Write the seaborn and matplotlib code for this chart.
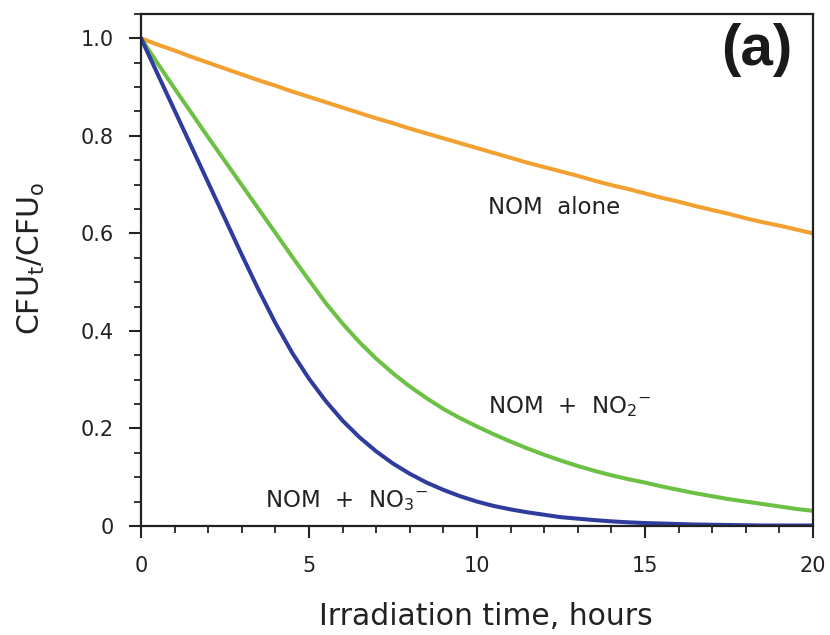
import numpy as np
import pandas as pd
import matplotlib
matplotlib.use("Agg")
import matplotlib.pyplot as plt
import seaborn as sns
from matplotlib.ticker import MultipleLocator

# Irradiation time (hours), sampled every half hour
hours = [0.0, 0.5, 1.0, 1.5, 2.0, 2.5, 3.0, 3.5, 4.0, 4.5,
         5.0, 5.5, 6.0, 6.5, 7.0, 7.5, 8.0, 8.5, 9.0, 9.5,
         10.0, 10.5, 11.0, 11.5, 12.0, 12.5, 13.0, 13.5, 14.0, 14.5,
         15.0, 15.5, 16.0, 16.5, 17.0, 17.5, 18.0, 18.5, 19.0, 19.5, 20.0]

# Surviving fraction CFU_t/CFU_0 for each treatment
nom_alone = [1.000, 0.987, 0.975, 0.962, 0.950, 0.938, 0.926, 0.914, 0.903, 0.891,
             0.880, 0.869, 0.858, 0.847, 0.836, 0.826, 0.815, 0.805, 0.795, 0.785,
             0.775, 0.765, 0.755, 0.745, 0.736, 0.727, 0.718, 0.708, 0.699, 0.691,
             0.682, 0.673, 0.665, 0.656, 0.648, 0.640, 0.631, 0.623, 0.616, 0.608, 0.600]
nom_no2 = [1.000, 0.948, 0.897, 0.847, 0.797, 0.748, 0.699, 0.650, 0.601, 0.552,
           0.504, 0.457, 0.415, 0.377, 0.343, 0.313, 0.286, 0.262, 0.240, 0.221,
           0.204, 0.188, 0.173, 0.159, 0.146, 0.134, 0.123, 0.113, 0.104, 0.096,
           0.089, 0.081, 0.074, 0.067, 0.061, 0.055, 0.050, 0.045, 0.040, 0.035, 0.031]
nom_no3 = [1.000, 0.926, 0.852, 0.778, 0.704, 0.630, 0.556, 0.484, 0.416, 0.355,
           0.302, 0.256, 0.216, 0.182, 0.153, 0.128, 0.107, 0.089, 0.074, 0.061,
           0.050, 0.041, 0.034, 0.028, 0.023, 0.018, 0.015, 0.012, 0.0095, 0.0075,
           0.006, 0.005, 0.004, 0.003, 0.0025, 0.002, 0.0015, 0.001, 0.001, 0.001, 0.001]

series_names = ["NOM alone", "NOM + NO2", "NOM + NO3"]
series_colors = ["#F2A030", "#6CC044", "#2F3C9E"]

n = len(hours)
df = pd.DataFrame({
    "hours": hours * 3,
    "ratio": nom_alone + nom_no2 + nom_no3,
    "series": [series_names[0]] * n + [series_names[1]] * n + [series_names[2]] * n,
})

sns.set_theme(style="ticks")
plt.rcParams["font.family"] = ["DejaVu Sans"]
plt.rcParams["mathtext.default"] = "regular"

fig = plt.figure(figsize=(8.3, 6.35), dpi=100)
ax = fig.add_axes([0.1699, 0.1717, 0.8096, 0.8063])

sns.lineplot(data=df, x="hours", y="ratio", hue="series",
             palette=dict(zip(series_names, series_colors)),
             linewidth=2.9, legend=False, ax=ax)

ax.set_xlim(0, 20)
ax.set_ylim(0, 1.05)
ax.xaxis.set_minor_locator(MultipleLocator(1))
ax.yaxis.set_minor_locator(MultipleLocator(0.05))
ax.set_xticks([0, 5, 10, 15, 20])
ax.set_xticklabels(["0", "5", "10", "15", "20"])
ax.set_yticks([0, 0.2, 0.4, 0.6, 0.8, 1.0])
ax.set_yticklabels(["0", "0.2", "0.4", "0.6", "0.8", "1.0"])

for side in ["left", "bottom", "right", "top"]:
    ax.spines[side].set_linewidth(1.6)
    ax.spines[side].set_color("#222222")

ax.tick_params(axis="both", which="major", direction="out", length=8.6, width=1.5,
               colors="#222222", labelsize=15, labelcolor="#222222")
ax.tick_params(axis="both", which="minor", direction="out", length=4.8, width=1.3,
               colors="#222222")
ax.tick_params(axis="x", which="major", pad=13)
ax.tick_params(axis="y", which="major", pad=11)

ax.set_xlabel("Irradiation time, hours", fontsize=21.5, color="#222222")
ax.set_ylabel("CFU$_t$/CFU$_o$", fontsize=21.5, color="#222222")
ax.xaxis.set_label_coords(0.513, -0.148)
ax.yaxis.set_label_coords(-0.14, 0.523)

ax.text(0.97, 0.982, "(a)", transform=ax.transAxes, ha="right", va="top",
        fontsize=42, fontweight="bold", color="#1a1a1a",
        family=["Liberation Sans", "DejaVu Sans"])

ax.text(10.34, 0.654, "NOM  alone", fontsize=16.5, color="#222222", va="center")
ax.text(10.34, 0.244, "NOM  +  NO$_2$$^{-}$", fontsize=16.5, color="#222222", va="center")
ax.text(3.7, 0.053, "NOM  +  NO$_3$$^{-}$", fontsize=16.5, color="#222222", va="center")

fig.savefig("out.png", dpi=100)
